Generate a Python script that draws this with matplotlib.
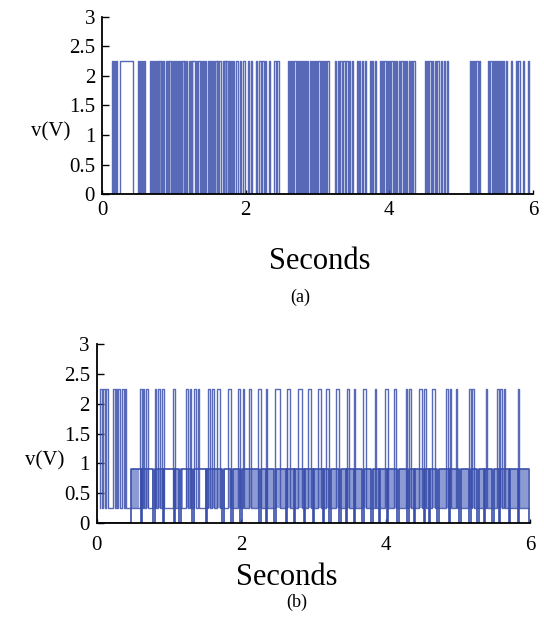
import matplotlib
matplotlib.use('Agg')
import matplotlib.pyplot as plt

plt.rcParams['font.family'] = ['Liberation Serif', 'DejaVu Serif']

# (a) two-level signal 0 / 2.25 V : high pulses (start, end) in seconds
a_low, a_high = 0.0, 2.25
a_pulses = [
    (0.135, 0.15), (0.165, 0.18), (0.195, 0.21), (0.245, 0.43),
    (0.50, 0.515), (0.53, 0.545), (0.56, 0.575), (0.585, 0.60),
    (0.67, 0.685), (0.695, 0.71), (0.72, 0.735),
    (0.75, 0.765), (0.775, 0.79), (0.80, 0.815), (0.825, 0.84), (0.85, 0.865),
    (0.89, 0.905), (0.915, 0.93), (0.94, 0.96),
    (0.98, 0.995), (1.005, 1.02), (1.03, 1.045), (1.055, 1.07), (1.08, 1.10),
    (1.12, 1.135), (1.145, 1.16), (1.17, 1.19),
    (1.21, 1.225), (1.235, 1.25), (1.26, 1.29),
    (1.31, 1.325), (1.335, 1.36),
    (1.38, 1.395), (1.405, 1.42), (1.43, 1.45),
    (1.47, 1.485), (1.495, 1.51), (1.52, 1.535), (1.545, 1.56),
    (1.58, 1.595), (1.605, 1.62), (1.63, 1.66),
    (1.68, 1.695), (1.705, 1.72), (1.73, 1.75),
    (1.77, 1.785), (1.795, 1.81), (1.82, 1.84),
    (1.87, 1.89), (1.92, 1.935), (1.97, 1.99), (2.03, 2.045), (2.07, 2.09),
    (2.15, 2.165), (2.19, 2.21), (2.23, 2.25), (2.27, 2.29), (2.32, 2.335),
    (2.40, 2.42), (2.44, 2.46),
    (2.59, 2.605), (2.62, 2.635), (2.65, 2.665), (2.68, 2.695), (2.71, 2.725),
    (2.74, 2.755), (2.77, 2.785), (2.80, 2.815), (2.83, 2.845), (2.86, 2.875),
    (2.89, 2.905), (2.92, 2.935), (2.95, 2.965), (2.98, 2.995), (3.01, 3.03),
    (3.045, 3.06), (3.08, 3.095), (3.11, 3.125), (3.14, 3.16),
    (3.24, 3.26), (3.28, 3.30), (3.32, 3.34), (3.36, 3.38), (3.40, 3.42),
    (3.44, 3.46), (3.48, 3.50),
    (3.55, 3.565), (3.575, 3.59), (3.62, 3.635), (3.66, 3.675),
    (3.73, 3.745), (3.765, 3.78), (3.80, 3.82),
    (3.87, 3.885), (3.90, 3.915), (3.93, 3.95), (3.97, 3.985), (4.00, 4.015),
    (4.03, 4.05), (4.07, 4.085), (4.10, 4.115), (4.13, 4.15), (4.17, 4.185),
    (4.20, 4.215), (4.23, 4.25), (4.27, 4.285), (4.30, 4.315), (4.33, 4.36),
    (4.50, 4.515), (4.53, 4.545), (4.56, 4.58), (4.60, 4.615), (4.635, 4.65),
    (4.67, 4.69), (4.72, 4.735), (4.76, 4.775), (4.80, 4.82),
    (5.12, 5.135), (5.15, 5.165), (5.18, 5.195), (5.21, 5.23), (5.245, 5.26),
    (5.38, 5.395), (5.41, 5.425), (5.44, 5.455), (5.47, 5.485), (5.50, 5.515),
    (5.53, 5.545), (5.56, 5.575), (5.59, 5.605), (5.62, 5.64),
    (5.70, 5.715), (5.76, 5.775), (5.80, 5.82), (5.86, 5.875), (5.93, 5.95),
]

# (b) overlaid: 0.25 / 2.25 V pulses, 0 / 0.9 V signal with dips to 0,
# and the stretches where the 0.25-0.9 V switching is too dense to resolve
b1_low, b1_high = 0.25, 2.25
b1_start, b1_end = 0.04, 5.99
b1_pulses = [
    (0.045, 0.07), (0.085, 0.11), (0.125, 0.15),
    (0.22, 0.245), (0.26, 0.285), (0.30, 0.32),
    (0.35, 0.375), (0.385, 0.41),
    (0.60, 0.62), (0.64, 0.66), (0.68, 0.71),
    (0.80, 0.82), (0.85, 0.87), (0.90, 0.93),
    (1.06, 1.09),
    (1.24, 1.26), (1.29, 1.31), (1.35, 1.37), (1.40, 1.42),
    (1.54, 1.57), (1.60, 1.63), (1.66, 1.70),
    (1.82, 1.86), (1.95, 1.98),
    (2.02, 2.04), (2.11, 2.13), (2.24, 2.28), (2.34, 2.36), (2.47, 2.54),
    (2.63, 2.67), (2.79, 2.84), (2.93, 2.97), (3.07, 3.11), (3.18, 3.22),
    (3.32, 3.36), (3.46, 3.50), (3.56, 3.58), (3.69, 3.73), (3.85, 3.87),
    (3.99, 4.03), (4.12, 4.15), (4.28, 4.30), (4.33, 4.35), (4.47, 4.50),
    (4.53, 4.56), (4.65, 4.68), (4.84, 4.86), (4.89, 4.91), (4.97, 4.99),
    (5.16, 5.18), (5.20, 5.23), (5.39, 5.41), (5.54, 5.57), (5.59, 5.62),
    (5.64, 5.66), (5.83, 5.85),
]
b2_low, b2_high = 0.0, 0.9
b2_start, b2_end = 0.48, 5.99
b2_dips = [
    (0.61, 0.63), (0.78, 0.80), (0.91, 0.93), (1.07, 1.09), (1.14, 1.16),
    (1.32, 1.34), (1.51, 1.53), (1.74, 1.76), (1.86, 1.88), (1.99, 2.01),
    (2.25, 2.27), (2.34, 2.36), (2.46, 2.48), (2.62, 2.64), (2.73, 2.75),
    (2.87, 2.89), (2.99, 3.01), (3.13, 3.15), (3.22, 3.24), (3.36, 3.38),
    (3.45, 3.47), (3.56, 3.58), (3.68, 3.70), (3.80, 3.82), (3.91, 3.93),
    (4.02, 4.04), (4.16, 4.18), (4.30, 4.32), (4.39, 4.41), (4.53, 4.55),
    (4.60, 4.62), (4.72, 4.74), (4.88, 4.90), (5.02, 5.04), (5.16, 5.18),
    (5.27, 5.29), (5.36, 5.38), (5.48, 5.50), (5.57, 5.59), (5.71, 5.73),
    (5.83, 5.85),
]
b_dense = [
    (0.48, 0.58), (0.62, 0.72), (0.77, 0.90), (1.06, 1.20), (1.24, 1.36),
    (1.50, 1.78), (1.83, 2.45), (2.48, 5.98),
]

y_ticks = [0, 0.5, 1, 1.5, 2, 2.5, 3]
y_ticklabels = ['0', '0.5', '1', '1.5', '2', '2.5', '3']
x_ticks = [0, 2, 4, 6]

LINE = '#3a4fab'
DENSE = '#6f82c8'


def to_steps(intervals, base, level, t0, t1):
    # signal sits at base, jumps to level inside each interval
    t = [t0]
    v = [base]
    for s, e in intervals:
        t += [s, e]
        v += [level, base]
    t.append(t1)
    v.append(base)
    return t, v


def style_axes(ax, xpad):
    ax.set_xlim(0, 6)
    ax.set_ylim(0, 3)
    ax.spines['top'].set_visible(False)
    ax.spines['right'].set_visible(False)
    ax.spines['left'].set_linewidth(1.3)
    ax.spines['bottom'].set_linewidth(1.3)
    ax.set_yticks(y_ticks)
    ax.set_yticklabels(y_ticklabels)
    ax.set_xticks(x_ticks)
    ax.tick_params(axis='y', direction='in', length=5, width=1, labelsize=15, pad=5)
    ax.tick_params(axis='x', direction='in', length=3, width=1, labelsize=15, pad=xpad)


fig = plt.figure(figsize=(5.44, 6.22), dpi=100)

# (a)
ax1 = fig.add_axes([0.1875, 0.688, 0.792, 0.285])
t, v = to_steps(a_pulses, a_low, a_high, 0.0, 6.0)
ax1.step(t, v, where='post', color=LINE, lw=1.0, alpha=0.85)
style_axes(ax1, 5)
ax1.set_ylabel('v(V)', rotation=0, fontsize=15, va='center')
ax1.yaxis.set_label_coords(-0.12, 0.35)
fig.text(0.588, 0.579, 'Seconds', ha='center', va='center', fontsize=22)
fig.text(0.552, 0.522, '(a)', ha='center', va='center', fontsize=13)

# (b)
ax2 = fig.add_axes([0.178, 0.159, 0.796, 0.288])
for s, e in b_dense:
    ax2.fill_between([s, e], b1_low, b2_high, color=DENSE, lw=0, alpha=0.8)
t, v = to_steps(b1_pulses, b1_low, b1_high, b1_start, b1_end)
ax2.step(t, v, where='post', color=LINE, lw=1.0, alpha=0.85)
t, v = to_steps(b2_dips, b2_high, b2_low, b2_start, b2_end)
t = [0.0] + t + [6.0]
v = [b2_low] + v[:-1] + [b2_low, b2_low]
ax2.step(t, v, where='post', color=LINE, lw=1.2)
style_axes(ax2, 9)
ax2.set_ylabel('v(V)', rotation=0, fontsize=15, va='center')
ax2.yaxis.set_label_coords(-0.12, 0.35)
fig.text(0.528, 0.071, 'Seconds', ha='center', va='center', fontsize=22)
fig.text(0.546, 0.032, '(b)', ha='center', va='center', fontsize=13)

plt.savefig('out.png', dpi=100)
